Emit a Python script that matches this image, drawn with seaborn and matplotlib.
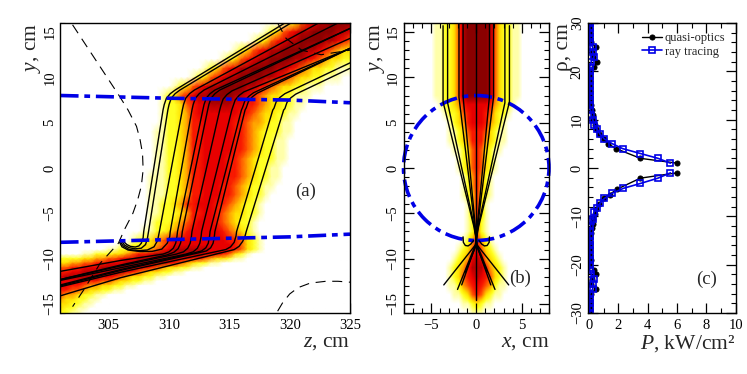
import numpy as np
import matplotlib
matplotlib.use("Agg")
import matplotlib.pyplot as plt
import seaborn as sns
from matplotlib.colors import LinearSegmentedColormap
from matplotlib.ticker import MultipleLocator

# heat map of panel (a): one digit per 0.5 cm of z from 301, rows at heat_a_y
P = "1235678899998876543322111"
heat_a_y = [16, 15, 14, 13, 12, 11, 10, 9, 8, 7, 6, 5, 4, 3, 2, 1, 0, -1, -2, -3, -4, -5, -6, -7, -8,
            -8.5, -9, -9.5, -10, -10.5, -11, -11.5, -12, -12.5, -13, -13.5, -14, -14.5, -15, -15.5, -16]
heat_a_start = [37, 34, 32, 29, 27, 24, 22, 19, 17, 17, 17, 17, 16, 16, 16, 16, 16,
                15, 15, 15, 15, 15, 15, 14, 12,
                10, 8, 4, 0, 0, 0, 0, 0, 0, 0, 0, 0, 0, 0, 0, 0]
heat_a_rows = [
    P, P, P, P, P, P, P, P, P,
    "122356778888776654332211",
    "12234677777776654332211",
    "1223466777776654432211",
    "11223466777776654322211",
    "1122346677777665432211",
    "1122346677777665432211",
    "1122346677776654322211",
    "112234667777665432211",
    "1112234667777665432211",
    "111223466777665432211",
    "11122346677766543221",
    "1122346677766543221",
    "1122234667765433221",
    "122234567776543221",
    "1122345677777654321",
    "1223456777777777665321",
    "112233456777777777765321",
    "11223334567888888777765321",
    "1122233456678888888877765321",
    "2222334455677888888877665433211",
    "334455667778888888765432211",
    "556677788888877654332211",
    "667788888887654332211",
    "788888877654332211",
    "7777766554332211",
    "7766544332211",
    "66554332211",
    "54432211",
    "4332211",
    "332211",
    "32211",
    "2211",
]

# heat map of panel (b): half profile from x=0 outwards, 0.5 cm steps, y = 16 .. -16
heat_b_rows = [
    "9998532211", "9998532211", "9998532211", "9998532211", "9998532211",
    "9998532211", "9998532211", "9998532211", "9998532211",
    "777643221", "77653221", "7764321", "6653211", "6643211",
    "653211", "65321", "65321", "6421", "6421", "6321", "631", "631", "621",
    "521", "6421", "75321", "874321", "8864321", "8765321", "7654211",
    "653211", "3211", "11",
]

# rays of panel (a) as (z, y), lower part up to y = 6.4
rays_a_low = [
    [(306.3, -8.2), (306.5, -8.45), (306.8, -8.65), (307.2, -8.72), (307.5, -8.6), (307.7, -8.3),
     (307.85, -7.7), (307.9, -7), (309.5, 6.4)],
    [(306.1, -8.1), (306.3, -8.5), (306.7, -8.8), (307.2, -8.92), (307.7, -8.85), (308.05, -8.45),
     (308.2, -7.8), (308.3, -7), (309.9, 6.4)],
    [(306.0, -8.2), (306.2, -8.6), (306.7, -9.0), (307.5, -9.12), (308.2, -9.05), (308.75, -8.7),
     (309.05, -8.0), (309.2, -7), (311.1, 6.4)],
    [(305.9, -8.2), (306.1, -8.7), (306.6, -9.05), (307.6, -9.22), (308.6, -9.2), (309.4, -8.95),
     (309.85, -8.3), (310.05, -7.6), (310.1, -7), (311.9, 6.4)],
    [(301, -11.4), (306, -10.2), (309.5, -9.5), (310.0, -9.25), (310.35, -8.85), (310.55, -8.3),
     (310.65, -7.6), (310.7, -7), (312.8, 6.4)],
    [(301, -12.3), (306, -10.7), (309.8, -9.6), (310.4, -9.3), (310.75, -8.9), (310.95, -8.3),
     (311.05, -7.6), (311.1, -7), (313.2, 6.4)],
    [(301, -12.3), (306, -10.8), (310.6, -9.5), (311.2, -9.25), (311.55, -8.85), (311.75, -8.3),
     (311.85, -7.6), (311.9, -7), (314.2, 6.4)],
    [(301, -12.4), (306, -11), (311.4, -9.5), (312.0, -9.25), (312.35, -8.85), (312.55, -8.3),
     (312.65, -7.6), (312.7, -7), (315.2, 6.4)],
    [(301, -12.9), (306, -11.2), (312, -9.4), (312.7, -9.15), (313.05, -8.8), (313.25, -8.3),
     (313.35, -7.6), (313.4, -7), (316.0, 6.4)],
    [(301, -13), (306, -11.3), (312.3, -9.4), (313.1, -9.15), (313.45, -8.8), (313.65, -8.3),
     (313.75, -7.6), (313.8, -7), (316.3, 6.4)],
    [(301, -13.1), (306, -11.5), (314, -9.2), (314.7, -9.0), (315.1, -8.7), (315.4, -8.2),
     (315.55, -7.5), (315.6, -7), (318.6, 6.4)],
    [(301, -14.1), (306, -12.1), (314.5, -9.3), (315.4, -9.0), (315.8, -8.65), (316.1, -8.1),
     (316.3, -7.5), (316.4, -7), (319.5, 6.4)],
]
# upper bend as offsets from the last low point, then where each ray leaves the frame
bend_dz = [0.1, 0.28, 0.6, 1.0]
bend_y = [7.0, 7.7, 8.2, 8.6]
bend_shift = [0, 0, 0, 0, 0, 0, -0.1, -0.2, -0.3, -0.35, -0.4, -0.45]
ray_end_z = [319.6, 320.1, 322.4, 324, 325, 325, 325, 325, 325, 325, 325, 325]
ray_end_y = [16, 16, 16, 16, 15.4, 15.4, 14.3, 13.2, 13.2, 13.2, 11.6, 11]

# dashed contours of panel (a)
dash_left_z = [302, 305.9, 306.6, 307.3, 307.6, 307.8, 307.85, 307.7, 307.4, 307, 306.3, 305.8,
               304.3, 302.9, 302]
dash_left_y = [15.8, 7.9, 6.4, 4.6, 3.1, 1.6, -0.2, -2, -3.5, -5, -6.8, -8.3,
               -10.5, -13.5, -15.3]
dash_low_z = [319, 319.4, 320, 320.7, 321.7, 323, 324, 325]
dash_low_y = [-15.8, -14.9, -13.9, -13.2, -12.7, -12.5, -12.5, -12.6]
dash_top_z = [319, 319.7, 321, 322.6, 325]
dash_top_y = [16, 14.3, 13, 12.5, 13]

# plasma boundary in panel (a)
edge_z = [301, 310, 320, 325]
edge_top = [8, 7.7, 7.5, 7.2]
edge_bottom = [-8.2, -7.9, -7.6, -7.3]
circle_radius = 8

# rays of panel (b), right half, mirrored when drawn
rays_b = [
    [(3.65, 15.7), (3.65, 7.3), (0.25, -6.5), (-0.1, -8.5), (-3.57, -12.9)],
    [(3.15, 16), (3.15, 7.2), (0.2, -6.5), (-0.1, -8.5), (-2.06, -13.4)],
    [(1.9, 16), (1.9, 7.8), (0.15, -6.5), (-0.05, -8.5), (-1.6, -12.9)],
    [(1.45, 16), (1.45, 7.9), (0.1, -6.5), (0, -8.5), (-1.2, -11.5)],
    [(1.45, -7.6), (1.42, -8.2), (1.2, -8.55), (0.9, -8.6), (0.6, -8.4), (0.3, -8.0)],
]
ray_center_x = [0, 0]
ray_center_y = [16, -14.6]

# panel (c) profiles
qo_up_p = [6.0, 3.5, 1.85, 1.3, 1.0, 0.7, 0.5, 0.4, 0.3, 0.25, 0.2, 0.12, 0.08, 0.05, 0.05,
           0.05, 0.08, 0.1, 0.1, 0.35, 0.55, 0.3, 0.2, 0.45, 0.12, 0.1, 0.08, 0.05, 0.05]
qo_up_r = [1, 2, 4, 5, 6, 7, 8, 9, 10, 11, 12, 13, 14, 15, 16,
           17, 18, 19, 20, 21, 22, 23, 24, 25, 26, 27, 28, 29, 30]
qo_dn_p = [6.0, 3.5, 1.9, 1.4, 1.0, 0.7, 0.5, 0.4, 0.3, 0.25, 0.2, 0.12, 0.08, 0.05, 0.05,
           0.1, 0.1, 0.15, 0.1, 0.35, 0.5, 0.2, 0.15, 0.45, 0.15, 0.1, 0.08, 0.05, 0.05]
qo_dn_r = [-1, -2.1, -4.4, -5.5, -6.2, -7.5, -8.5, -9.5, -10.5, -11.5, -12.5, -13.5, -14.5,
           -15.5, -16.5, -17, -18, -19, -20, -21, -22, -23, -24, -25, -26, -27, -28, -29, -30]
rt_up_p = [5.55, 4.7, 3.5, 2.3, 1.6, 1.05, 0.75, 0.55, 0.35, 0.25, 0.15, 0.1, 0.05, 0.05, 0.05,
           0.05, 0.05, 0.05, 0.05, 0.05, 0.05, 0.15, 0.35, 0.25, 0.25, 0.05, 0.05, 0.05, 0.05, 0.05]
rt_up_r = [1, 2, 3, 4, 5, 6, 7, 8, 9, 10, 11, 12, 13, 14, 15,
           16, 17, 18, 19, 20, 21, 22, 23, 24, 25, 26, 27, 28, 29, 30]
rt_dn_p = [5.55, 4.7, 3.5, 2.35, 1.6, 1.05, 0.75, 0.55, 0.35, 0.25, 0.15, 0.1, 0.05, 0.05, 0.05,
           0.05, 0.05, 0.05, 0.05, 0.05, 0.05, 0.15, 0.35, 0.25, 0.25, 0.05, 0.05, 0.05, 0.05, 0.05]
rt_dn_r = [-1, -2.1, -3.2, -4.2, -5.2, -6.3, -7.3, -8.2, -9, -10.5, -11, -12, -13, -14, -15,
           -16, -17, -18, -19, -20, -21, -22, -23, -24, -25, -26, -27, -28, -29, -30]

heat_colors = ["#ffffff", "#ffffa8", "#ffff20", "#ffe000", "#ffa000",
               "#ff5a00", "#f81800", "#e80000", "#b40000", "#8a0000"]
BLUE = "#0000e6"

sns.set_style("ticks")
plt.rcParams["font.family"] = ["Liberation Serif", "DejaVu Serif"]
plt.rcParams["mathtext.fontset"] = "custom"
plt.rcParams["mathtext.rm"] = "Liberation Serif"
plt.rcParams["mathtext.it"] = "Liberation Serif:italic"
plt.rcParams["axes.edgecolor"] = "black"
plt.rcParams["xtick.color"] = "black"
plt.rcParams["ytick.color"] = "black"

W, H = 747, 374
fig = plt.figure(figsize=(W / 100, H / 100), dpi=100)


def make_axes(left, right, top, bottom):
    return fig.add_axes([left / W, 1 - bottom / H, (right - left) / W, (bottom - top) / H])


def style_axes(ax, xmajor, xminor, ymajor, yminor):
    ax.xaxis.set_major_locator(MultipleLocator(xmajor))
    ax.xaxis.set_minor_locator(MultipleLocator(xminor))
    ax.yaxis.set_major_locator(MultipleLocator(ymajor))
    ax.yaxis.set_minor_locator(MultipleLocator(yminor))
    ax.tick_params(which="major", direction="in", top=True, right=True, length=7, width=0.9,
                   labelsize=10.5, pad=3)
    ax.tick_params(axis="x", which="major", pad=4.5)
    ax.tick_params(which="minor", direction="in", top=True, right=True, length=3.5, width=0.8)
    ax.tick_params(axis="y", labelrotation=90)
    for lab in ax.get_yticklabels():
        lab.set_va("center")
    for s in ax.spines.values():
        s.set_visible(True)
        s.set_linewidth(1)


def draw_ray(ax, pts, sign=1):
    xs = [sign * p[0] for p in pts]
    ys = [p[1] for p in pts]
    sns.lineplot(x=xs, y=ys, sort=False, estimator=None, color="black", linewidth=1.0, ax=ax)


cmap = LinearSegmentedColormap.from_list("beam", heat_colors)

# panel (a)
heat_a = np.zeros((len(heat_a_rows), 49))
for i, row in enumerate(heat_a_rows):
    vals = [int(c) for c in row][: 49 - heat_a_start[i]]
    heat_a[i, heat_a_start[i]:heat_a_start[i] + len(vals)] = vals

ax_a = make_axes(60.5, 350, 23, 313)
heat_a_z = 301 + 0.5 * np.arange(49)
ax_a.pcolormesh(heat_a_z, heat_a_y, heat_a, shading="gouraud", cmap=cmap, vmin=0, vmax=9)
for k, low in enumerate(rays_a_low):
    z0 = low[-1][0]
    upper = [(z0 + dz, yb + bend_shift[k]) for dz, yb in zip(bend_dz, bend_y)]
    draw_ray(ax_a, low + upper + [(ray_end_z[k], ray_end_y[k])])
for zs, ys in [(dash_left_z, dash_left_y), (dash_low_z, dash_low_y), (dash_top_z, dash_top_y)]:
    sns.lineplot(x=zs, y=ys, sort=False, estimator=None, color="black", linewidth=0.8,
                 ax=ax_a, linestyle=(0, (9, 6)))
for ys in (edge_top, edge_bottom):
    sns.lineplot(x=edge_z, y=ys, sort=False, estimator=None, color=BLUE, linewidth=2.6,
                 ax=ax_a, linestyle=(0, (5, 1.6, 1.6, 1.6)))
ax_a.set_xlim(301, 325)
ax_a.set_ylim(-16, 16)
style_axes(ax_a, 5, 1, 5, 1)
ax_a.set_xlabel("$z$, cm", fontsize=15.5, loc="right")
ax_a.set_ylabel("$y$, cm", fontsize=15.5, loc="top")
ax_a.xaxis.set_label_coords(1, -0.07)
ax_a.yaxis.set_label_coords(-0.06, 1)
ax_a.text(321.3, -2.6, "(a)", fontsize=13.5, ha="center", va="center")

# panel (b)
heat_b = np.zeros((len(heat_b_rows), 33))
for i, row in enumerate(heat_b_rows):
    vals = [int(c) for c in row]
    half = vals + [0] * (17 - len(vals))
    heat_b[i] = half[:0:-1] + half

ax_b = make_axes(403.5, 549, 23, 313)
ax_b.imshow(heat_b, extent=(-8.25, 8.25, -16.5, 16.5), aspect="auto", cmap=cmap,
            vmin=0, vmax=9, interpolation="bilinear", origin="upper")
for ray in rays_b:
    draw_ray(ax_b, ray, 1)
    draw_ray(ax_b, ray, -1)
sns.lineplot(x=ray_center_x, y=ray_center_y, sort=False, estimator=None, color="black",
             linewidth=1.0, ax=ax_b)
ax_b.add_patch(plt.Circle((0, 0), circle_radius, fill=False, edgecolor=BLUE, linewidth=2.6,
                          linestyle=(0, (5, 1.6, 1.6, 1.6)), clip_on=False))
ax_b.set_xlim(-8, 8)
ax_b.set_ylim(-16, 16)
style_axes(ax_b, 5, 1, 5, 1)
ax_b.set_xlabel("$x$, cm", fontsize=15.5, loc="right")
ax_b.set_ylabel("$y$, cm", fontsize=15.5, loc="top")
ax_b.xaxis.set_label_coords(1, -0.07)
ax_b.yaxis.set_label_coords(-0.115, 1)
ax_b.text(4.8, -12.2, "(b)", fontsize=13.5, ha="center", va="center")

# panel (c)
ax_c = make_axes(588, 735.7, 23, 313)
sns.lineplot(x=qo_up_p, y=qo_up_r, sort=False, estimator=None, color="black", linewidth=1.0,
             marker="o", markersize=3.6, markeredgecolor="black", ax=ax_c, label="quasi-optics")
sns.lineplot(x=qo_dn_p, y=qo_dn_r, sort=False, estimator=None, color="black", linewidth=1.0,
             marker="o", markersize=3.6, markeredgecolor="black", ax=ax_c)
sns.lineplot(x=rt_up_p, y=rt_up_r, sort=False, estimator=None, color=BLUE, linewidth=1.2,
             marker="s", markersize=4, markerfacecolor="none", markeredgecolor=BLUE,
             markeredgewidth=1.2, ax=ax_c, label="ray tracing")
sns.lineplot(x=rt_dn_p, y=rt_dn_r, sort=False, estimator=None, color=BLUE, linewidth=1.2,
             marker="s", markersize=4, markerfacecolor="none", markeredgecolor=BLUE,
             markeredgewidth=1.2, ax=ax_c)
ax_c.set_xlim(-0.07, 10)
ax_c.set_ylim(-30, 30)
style_axes(ax_c, 2, 1, 10, 2)
ax_c.set_xlabel("$P$, kW/cm²", fontsize=15.5, loc="right")
ax_c.set_ylabel("ρ, cm", fontsize=15.5, loc="top")
ax_c.xaxis.set_label_coords(1, -0.07)
ax_c.yaxis.set_label_coords(-0.1, 1)
ax_c.text(8.0, -23, "(c)", fontsize=13.5, ha="center", va="center")
ax_c.legend(loc="upper right", frameon=False, fontsize=9, handlelength=1.6, handletextpad=0.2,
            labelspacing=0.1, borderaxespad=0, bbox_to_anchor=(0.965, 0.985))

fig.savefig("out.png", dpi=100)
